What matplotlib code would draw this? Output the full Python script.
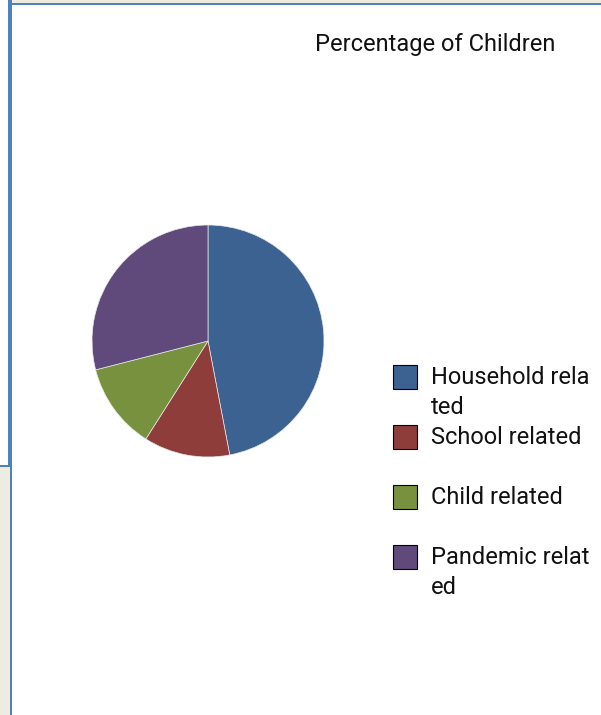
import matplotlib.pyplot as plt
from matplotlib.patches import Rectangle

plt.rcParams['font.family'] = ['Roboto', 'DejaVu Sans']

# share of children by reason
labels = ['Household related', 'School related', 'Child related', 'Pandemic related']
values = [47, 12, 12, 29]
colors = ['#3c6291', '#8e3d3b', '#77913f', '#604a7b']

W, H = 601, 715
fig = plt.figure(figsize=(W / 100, H / 100), dpi=100)
fig.patch.set_facecolor('white')


def px(x, y):
    # pixel coords from the top-left corner -> figure fraction
    return x / W, 1 - y / H


def box(x0, y0, x1, y1, color):
    fig.add_artist(Rectangle(px(x0, y1), (x1 - x0) / W, (y1 - y0) / H,
                             transform=fig.transFigure, facecolor=color,
                             edgecolor='none', zorder=0))


# frame around the chart area
box(12, 0, W, 3, '#eeece1')
box(0, 467, 10, H, '#eeece1')
box(8, 0, 12, 466, '#4f81bd')
box(10, 466, 12, H, '#4f81bd')
box(8, 3, W, 5, '#4f81bd')
box(0, 465, 10, 467, '#4f81bd')

# pie
ax = fig.add_axes([92 / W, 1 - 457 / H, 232 / W, 232 / H])
ax.pie(values, colors=colors, startangle=90, counterclock=False, radius=1,
       wedgeprops=dict(edgecolor='#e8e8e8', linewidth=0.5))
ax.set_xlim(-1, 1)
ax.set_ylim(-1, 1)
ax.set_aspect('equal')
ax.axis('off')

fig.text(*px(435, 51), 'Percentage of Children', ha='center', va='baseline',
         fontsize=17, color='#111111')

# legend, labels wrapped at 14 characters, one text per line
for i, (lab, col) in enumerate(zip(labels, colors)):
    top = 365 + i * 60
    x0, y0 = px(393, top + 24)
    fig.add_artist(Rectangle((x0, y0), 24 / W, 24 / H, transform=fig.transFigure,
                             facecolor=col, edgecolor='black', linewidth=0.8))
    lines = [lab[k:k + 14] for k in range(0, len(lab), 14)]
    for j, line in enumerate(lines):
        fig.text(*px(431, top + 19 + j * 30), line, ha='left', va='baseline',
                 fontsize=17, color='#111111')

fig.savefig('out.png', dpi=100)
